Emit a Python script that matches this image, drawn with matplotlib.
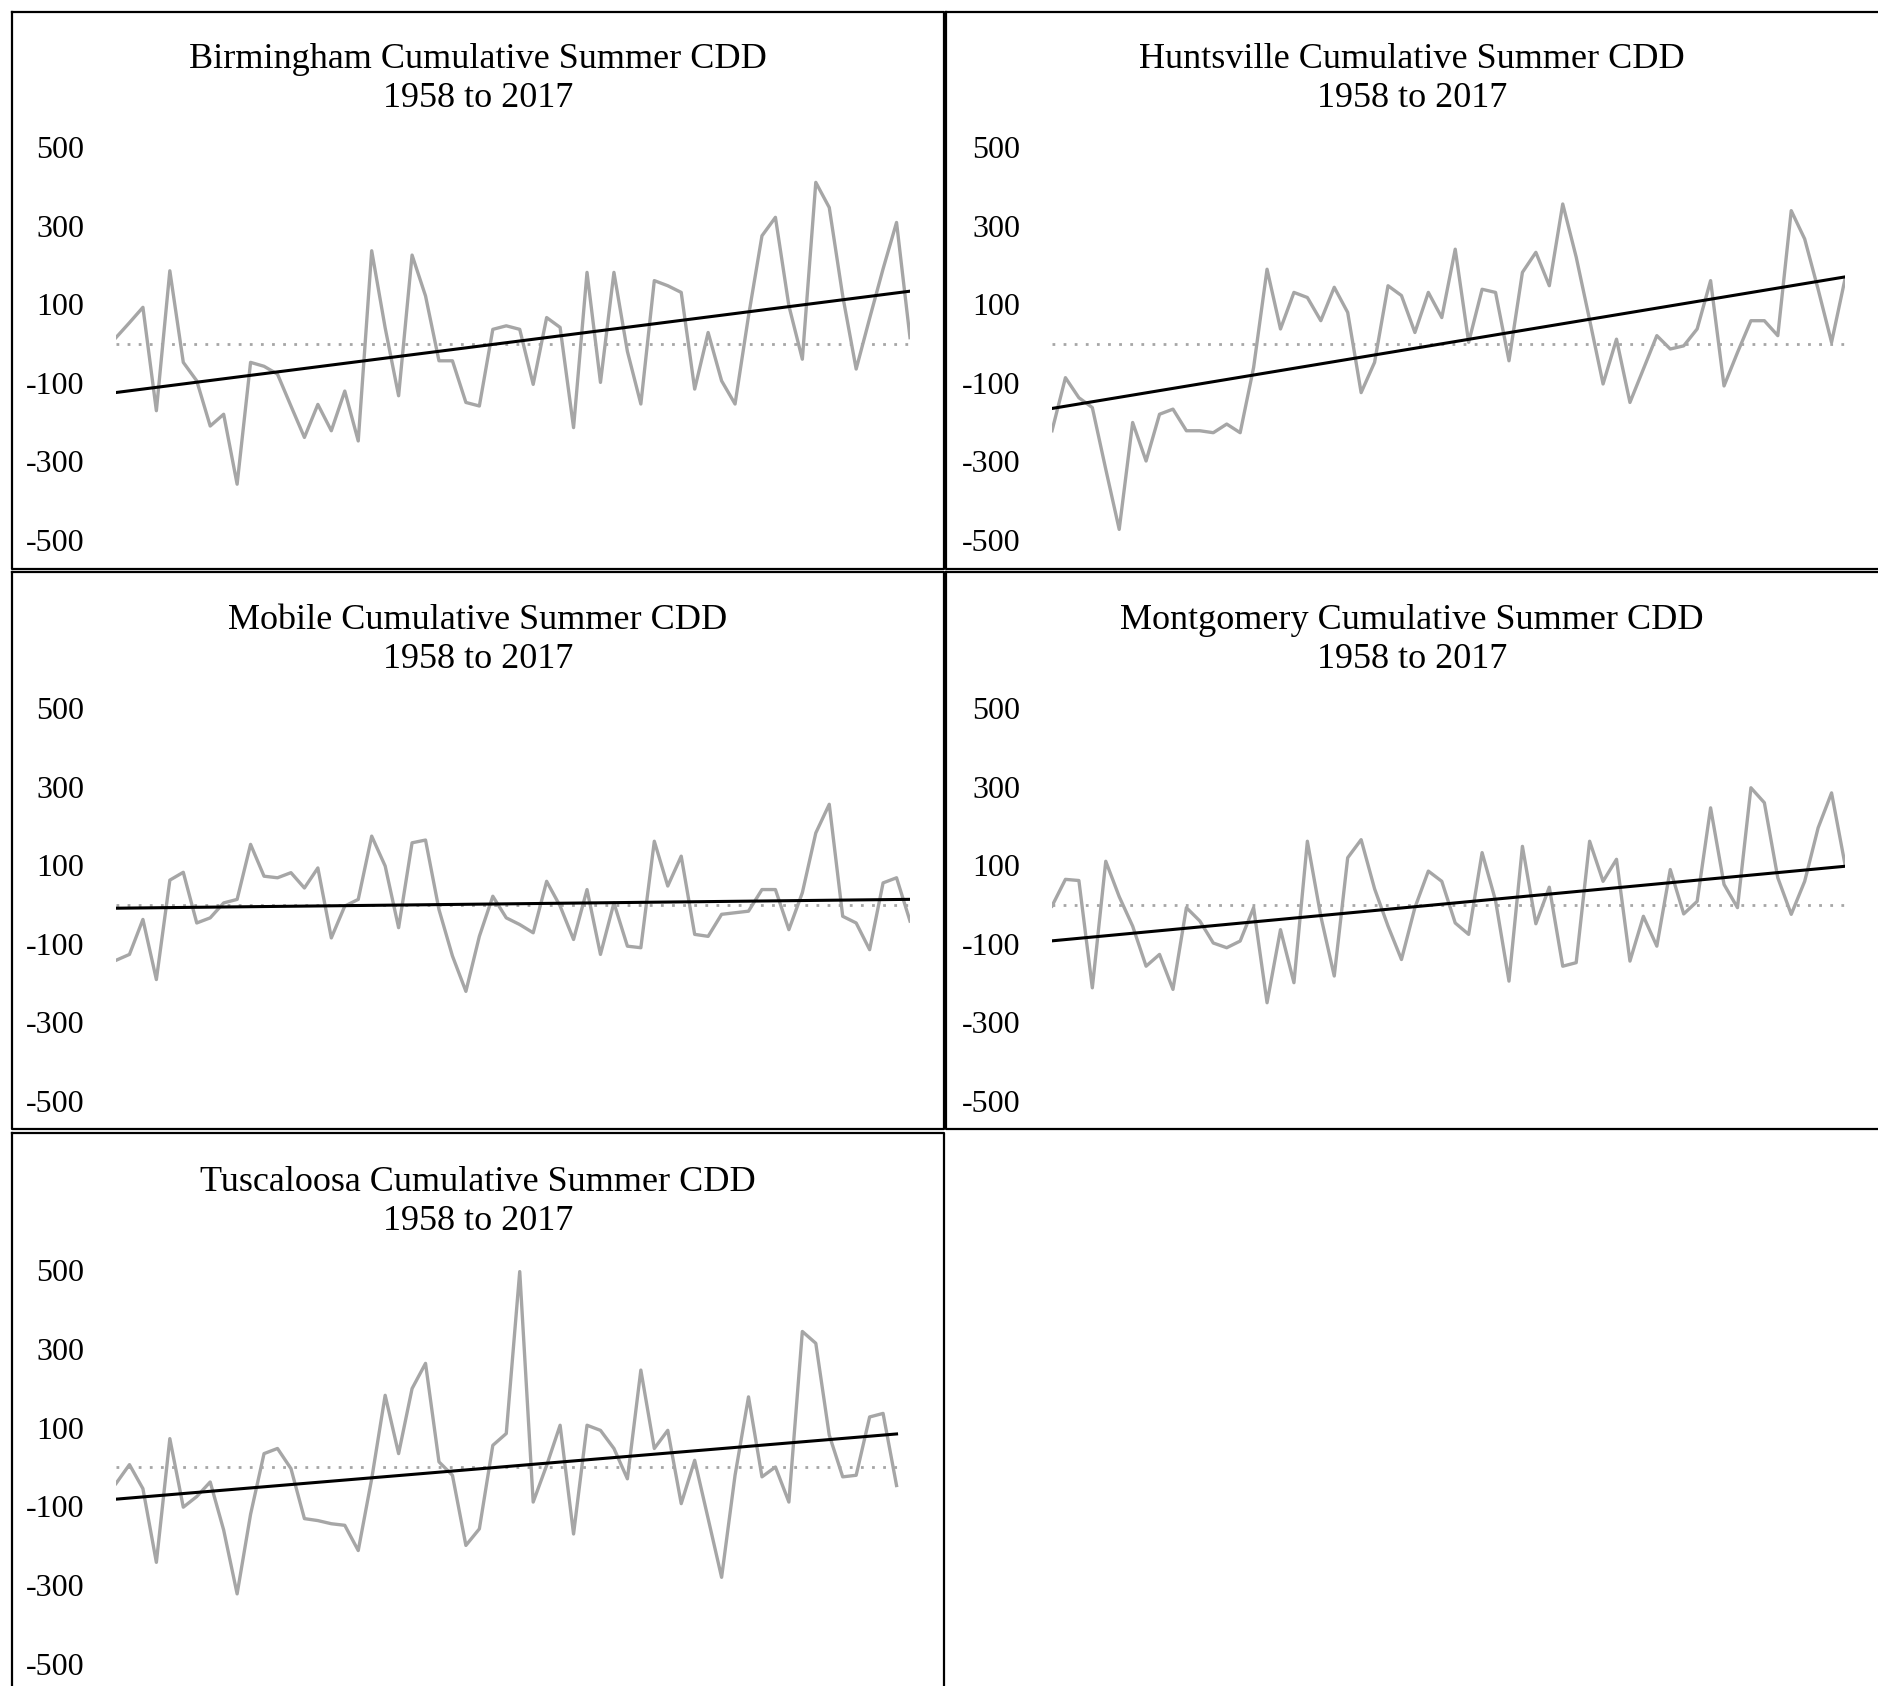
import numpy as np
import matplotlib
matplotlib.use('Agg')
import matplotlib.pyplot as plt
from matplotlib.lines import Line2D

plt.rcParams['font.family'] = ['Liberation Serif', 'DejaVu Serif']
plt.rcParams['axes.unicode_minus'] = False

# cumulative summer CDD anomalies, 1958-2017 (Tuscaloosa ends 2016)
years = list(range(1958, 2018))
birmingham = [15, 53, 92, -171, 185, -48, -95, -210, -180, -358,
              -48, -58, -78, -159, -239, -155, -222, -121, -248, 236,
              40, -133, 225, 121, -44, -44, -150, -159, 36, 45,
              36, -104, 66, 41, -214, 181, -99, 181, -20, -154,
              160, 147, 130, -116, 28, -95, -154, 70, 274, 321,
              96, -40, 410, 346, 121, -65, 64, 190, 308, 15]
huntsville = [-222, -87, -138, -163, -320, -473, -201, -299, -180, -167,
              -222, -222, -227, -205, -227, -61, 189, 37, 130, 117,
              58, 143, 79, -125, -48, 147, 122, 28, 130, 66,
              240, 3, 138, 130, -44, 181, 232, 147, 355, 220,
              60, -103, 11, -150, -65, 20, -14, -6, 37, 160,
              -108, -23, 58, 58, 20, 338, 266, 138, 3, 164]
mobile = [-142, -127, -38, -191, 62, 82, -47, -34, 4, 13,
          153, 72, 68, 81, 42, 93, -85, -4, 13, 174,
          98, -59, 157, 164, -13, -131, -221, -81, 21, -34,
          -51, -72, 59, -4, -89, 38, -127, 4, -106, -110,
          161, 47, 123, -76, -81, -25, -21, -17, 38, 38,
          -64, 30, 182, 255, -30, -47, -115, 55, 68, -42]
montgomery = [-4, 64, 61, -212, 110, 20, -55, -157, -127, -216,
              -8, -42, -98, -110, -93, -8, -250, -64, -199, 161,
              -30, -182, 119, 165, 40, -55, -140, -8, 85, 59,
              -47, -76, 132, 10, -195, 148, -49, 44, -157, -148,
              161, 59, 115, -144, -30, -106, 89, -24, 8, 246,
              51, -8, 297, 259, 68, -25, 59, 195, 284, 102]
tuscaloosa = [-42, 6, -55, -242, 72, -102, -75, -38, -160, -322,
              -120, 34, 47, -4, -131, -136, -144, -148, -212, -30,
              182, 34, 199, 263, 13, -21, -199, -157, 55, 85,
              496, -89, 4, 106, -170, 106, 93, 47, -30, 246,
              47, 93, -93, 17, -131, -280, -21, 178, -25, 0,
              -89, 344, 314, 81, -25, -21, 127, 136, -47]

cities = ['Birmingham', 'Huntsville', 'Mobile', 'Montgomery', 'Tuscaloosa']
series = [birmingham, huntsville, mobile, montgomery, tuscaloosa]
yticks = [500, 300, 100, -100, -300, -500]

W, H = 1878, 1686
fig = plt.figure(figsize=(W / 100, H / 100), dpi=100)

# pixel layout (top-left origin)
col_x = [(116, 910), (1052, 1845)]
row_y = [(147, 540), (708, 1101), (1270, 1664)]
box_x = [(12, 944), (946, 1900)]
box_y = [(12, 569), (572, 1129), (1133, 1720)]
title_y = [79, 640, 1202]

GRAY = '#a6a6a6'


def fx(px):
    return px / W


def fy(py):
    return 1 - py / H


def frame(x0, x1, y0, y1):
    xs = [fx(x0), fx(x1), fx(x1), fx(x0), fx(x0)]
    ys = [fy(y0), fy(y0), fy(y1), fy(y1), fy(y0)]
    fig.add_artist(Line2D(xs, ys, transform=fig.transFigure,
                          color='black', lw=1.6, clip_on=False))


for k, (city, vals) in enumerate(zip(cities, series)):
    r, c = divmod(k, 2)
    x0, x1 = col_x[c]
    y0, y1 = row_y[r]
    ax = fig.add_axes([fx(x0), fy(y1), (x1 - x0) / W, (y1 - y0) / H])
    ax.patch.set_alpha(0)
    xs = years[:len(vals)]

    ax.hlines(0, xs[0], xs[-1], colors=GRAY, linestyles=(0, (1, 3)), lw=2)
    ax.plot(xs, vals, color=GRAY, lw=2.4)
    coef = np.polyfit(xs, vals, 1)
    ax.plot([xs[0], xs[-1]], np.polyval(coef, [xs[0], xs[-1]]),
            color='black', lw=2.2)

    ax.set_xlim(years[0], years[-1])
    ax.set_ylim(-500, 500)
    ax.set_xticks([])
    ax.set_yticks(yticks)
    ax.tick_params(axis='y', length=0, pad=23, labelsize=23)
    for s in ax.spines.values():
        s.set_visible(False)

    bx0, bx1 = box_x[c]
    by0, by1 = box_y[r]
    frame(bx0, bx1, by0, by1)
    fig.text(fx((bx0 + min(bx1, W)) / 2), fy(title_y[r]),
             f'{city} Cumulative Summer CDD\n1958 to 2017',
             ha='center', va='center', fontsize=26, linespacing=1.27)

fig.savefig('out.png', dpi=100, facecolor='white')
